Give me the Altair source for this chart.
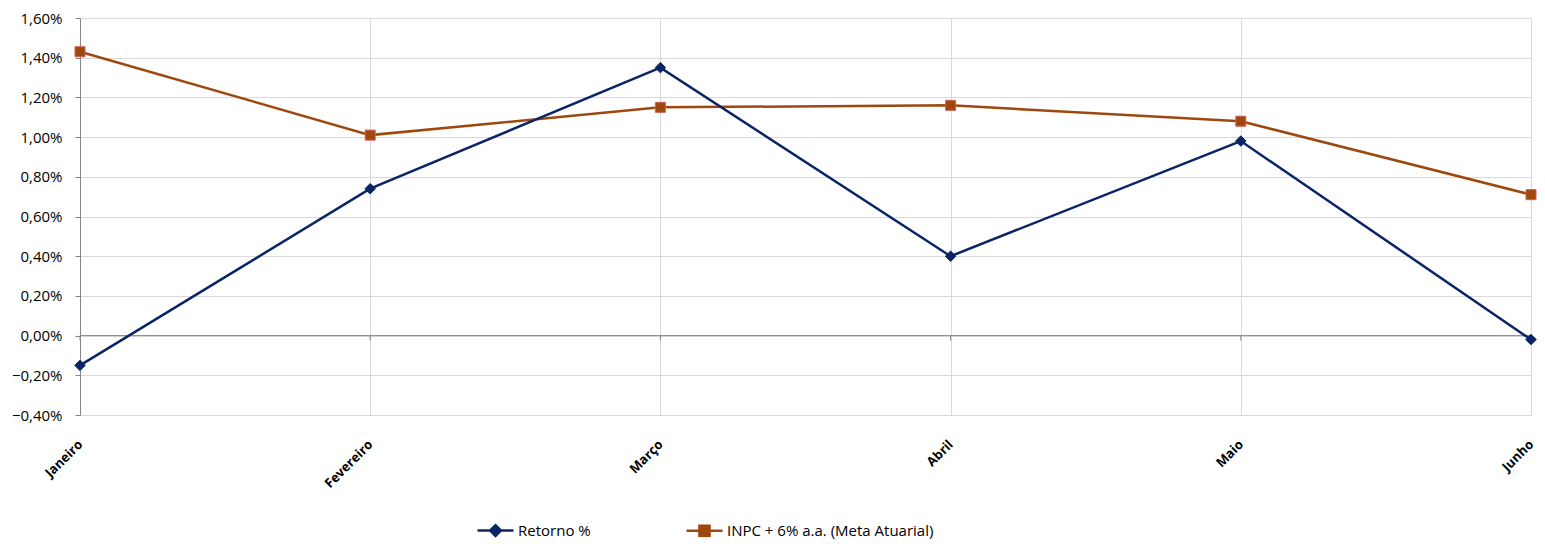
import altair as alt
import pandas as pd

months = ["Janeiro", "Fevereiro", "Março", "Abril", "Maio", "Junho"]
retorno = [-0.15, 0.74, 1.35, 0.40, 0.98, -0.02]
meta = [1.43, 1.01, 1.15, 1.16, 1.08, 0.71]
series_names = ["Retorno %", "INPC + 6% a.a. (Meta Atuarial)"]
y_ticks = [-0.4, -0.2, 0.0, 0.2, 0.4, 0.6, 0.8, 1.0, 1.2, 1.4, 1.6]

BLUE = "#0B2466"
BROWN = "#9E480E"
GRID = "#D9D9D9"
AXIS = "#868686"
FONT = "Open Sans"

df = pd.DataFrame({
    "mes": months * 2,
    "serie": [series_names[0]] * len(months) + [series_names[1]] * len(months),
    "valor": retorno + meta,
})

legend_paths = [
    "M-1,0H1M0,-0.3L0.3,0L0,0.3L-0.3,0Z",
    "M-1,0H1M-0.28,-0.28H0.28V0.28H-0.28Z",
]

legend = alt.Legend(
    title=None, orient="none", legendX=396, legendY=493,
    direction="horizontal", columns=2, columnPadding=90, padding=0,
    symbolSize=1296, symbolStrokeWidth=2.5, symbolOpacity=1,
    labelFont=FONT, labelFontSize=15, labelColor="#000", labelOffset=3, labelLimit=500,
)

x_scale = alt.Scale(type="point", padding=0)
x_axis = alt.Axis(title=None, grid=True, gridColor=GRID, gridWidth=1,
                  domain=False, ticks=False, labelAngle=-45, labelAlign="right",
                  labelBaseline="middle", labelFont=FONT, labelFontSize=13,
                  labelFontWeight="bold", labelColor="#000", labelPadding=27,
                  labelOverlap=False, labelBound=False)
y_scale = alt.Scale(domain=[-0.4, 1.6], nice=False, zero=False)
y_axis = alt.Axis(title=None, values=y_ticks, grid=True, gridColor=GRID, gridWidth=1,
                  domainColor=AXIS, tickColor=AXIS, tickSize=5,
                  labelExpr="replace(format(datum.value, '.2f'), '.', ',') + '%'",
                  labelFont=FONT, labelFontSize=15, labelColor="#000",
                  labelPadding=13, labelOverlap=False)

x = alt.X("mes:N", sort=months, scale=x_scale, axis=x_axis)
y = alt.Y("valor:Q", scale=y_scale, axis=y_axis)

base = alt.Chart(df)

layers = []
styles = {
    series_names[1]: dict(color=BROWN, shape="square", size=100, stroke="#D0605A"),
    series_names[0]: dict(color=BLUE, shape="diamond", size=110, stroke=BLUE),
}
for name in [series_names[1], series_names[0]]:
    st = styles[name]
    sub = base.transform_filter(alt.datum.serie == name)
    line = sub.mark_line(strokeWidth=2.5, color=st["color"]).encode(x=x, y=y)
    pts = sub.mark_point(filled=True, opacity=1, shape=st["shape"], size=st["size"],
                         fill=st["color"], stroke=st["stroke"], strokeWidth=1).encode(x=x, y=y)
    layers += [line, pts]

zero_rule = alt.Chart(pd.DataFrame({"z": [0]})).mark_rule(color=AXIS, strokeWidth=1).encode(
    y=alt.YDatum(0, scale=y_scale, axis=y_axis))
zero_ticks = alt.Chart(pd.DataFrame({"mes": months})).mark_rule(color=AXIS, strokeWidth=1).encode(
    x=x, y=alt.YDatum(0, scale=y_scale, axis=y_axis), y2=alt.Y2Datum(-0.025))

# invisible layer that only provides the legend (line + marker symbols)
legend_layer = base.mark_point(filled=True, opacity=0).encode(
    x=x, y=y,
    fill=alt.Fill("serie:N", scale=alt.Scale(domain=series_names, range=[BLUE, BROWN]), legend=legend),
    stroke=alt.Stroke("serie:N", scale=alt.Scale(domain=series_names, range=[BLUE, BROWN]), legend=legend),
    shape=alt.Shape("serie:N", scale=alt.Scale(domain=series_names, range=legend_paths), legend=legend),
)

chart = alt.layer(zero_rule, zero_ticks, *layers, legend_layer).properties(
    width=1451, height=397,
    autosize=alt.AutoSizeParams(type="none"),
    padding={"left": 72, "top": 10, "right": 6, "bottom": 126},
    background="white",
).configure_view(stroke=GRID)

chart.save("out.html", embed_options={"renderer": "svg", "actions": False})
